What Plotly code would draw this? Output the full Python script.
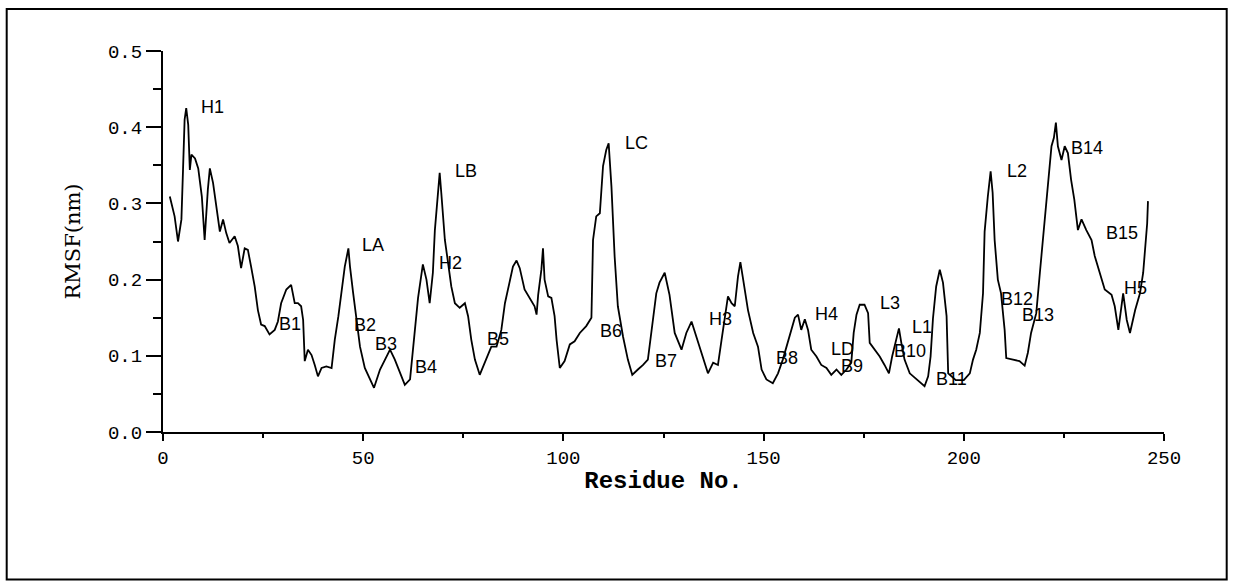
import plotly.graph_objects as go

residue = [1.7,2.9,3.75,4.6,5.0,5.4,5.8,6.3,6.7,7.1,8.0,8.8,9.7,10.4,11.2,11.7,12.5,13.4,14.2,15.0,
           15.8,16.6,17.9,18.7,19.5,20.4,21.2,22.0,22.9,23.7,24.5,25.4,26.6,27.9,28.7,29.5,30.8,32.0,32.9,33.7,
           34.5,35.0,35.4,36.2,37.1,37.9,38.7,39.6,40.8,42.1,42.9,43.8,44.6,45.4,46.3,46.7,47.5,48.4,49.2,50.4,
           51.7,52.7,54.2,55.4,56.7,57.9,59.2,60.4,61.7,62.9,63.7,64.9,65.8,66.6,67.4,67.9,68.7,69.1,69.5,70.4,
           71.2,72.0,72.9,74.1,75.4,76.2,77.0,77.9,79.1,80.4,82.0,83.3,84.5,85.4,86.6,87.4,88.3,89.1,90.3,91.6,
           92.8,93.3,93.7,94.5,94.9,95.3,96.2,97.0,97.8,98.3,99.1,100.3,101.6,102.8,104.1,105.7,107.0,107.4,108.2,109.1,
           109.9,110.7,111.3,112.0,112.8,113.6,114.9,116.1,117.2,118.6,119.9,121.1,122.0,123.2,124.0,125.3,126.5,127.8,129.5,130.7,
           132.0,133.2,134.9,136.1,137.4,138.6,139.5,140.3,141.1,142.0,142.8,143.6,144.2,144.9,146.1,147.4,148.6,149.5,150.7,152.3,
           153.6,154.8,156.5,157.8,158.6,159.4,160.3,161.1,161.9,163.2,164.4,165.7,166.9,168.2,169.4,170.7,171.9,172.5,173.2,174.0,
           175.2,176.1,176.5,177.7,179.0,180.2,181.3,182.1,183.0,183.8,184.4,185.2,186.5,188.2,190.2,191.1,191.7,192.3,193.1,194.0,
           194.8,195.7,196.1,198.0,200.0,201.5,202.3,203.1,204.0,204.8,205.2,206.0,206.7,207.2,207.7,208.5,209.3,210.2,210.6,212.3,
           213.9,215.2,216.0,216.8,218.1,219.0,220.2,221.1,221.9,222.5,223.0,223.5,224.4,225.2,226.0,226.8,227.6,228.5,229.4,230.6,
           231.9,232.7,233.9,235.2,236.9,237.7,238.6,239.4,239.8,240.7,241.5,242.8,244.0,244.8,245.5,245.8,246.0]

rmsf = [0.309,0.283,0.250,0.279,0.344,0.410,0.425,0.403,0.344,0.364,0.359,0.346,0.309,0.252,0.318,0.346,0.327,0.292,0.263,0.279,
        0.261,0.248,0.257,0.244,0.215,0.241,0.239,0.217,0.191,0.160,0.141,0.139,0.128,0.134,0.145,0.169,0.187,0.193,0.169,0.169,
        0.165,0.147,0.093,0.108,0.101,0.088,0.073,0.084,0.086,0.084,0.121,0.152,0.187,0.217,0.241,0.217,0.182,0.147,0.112,0.084,
        0.069,0.058,0.082,0.095,0.108,0.095,0.077,0.062,0.069,0.128,0.176,0.220,0.200,0.169,0.209,0.265,0.314,0.340,0.314,0.252,
        0.222,0.191,0.169,0.163,0.169,0.152,0.121,0.095,0.075,0.091,0.112,0.112,0.134,0.169,0.200,0.217,0.225,0.215,0.187,0.176,
        0.165,0.154,0.180,0.213,0.241,0.200,0.178,0.176,0.152,0.121,0.084,0.093,0.115,0.119,0.130,0.139,0.150,0.252,0.283,0.287,
        0.349,0.370,0.379,0.322,0.230,0.165,0.125,0.095,0.075,0.082,0.088,0.095,0.134,0.182,0.196,0.209,0.180,0.130,0.108,0.130,
        0.145,0.125,0.099,0.077,0.091,0.088,0.121,0.152,0.178,0.169,0.165,0.204,0.223,0.200,0.160,0.130,0.112,0.082,0.069,0.064,
        0.077,0.095,0.125,0.150,0.154,0.134,0.148,0.134,0.108,0.099,0.088,0.084,0.075,0.082,0.075,0.082,0.091,0.130,0.154,0.167,
        0.167,0.156,0.117,0.108,0.099,0.088,0.077,0.099,0.121,0.136,0.117,0.095,0.077,0.069,0.060,0.073,0.099,0.149,0.191,0.213,
        0.196,0.152,0.077,0.068,0.068,0.077,0.095,0.108,0.130,0.182,0.263,0.309,0.342,0.314,0.252,0.200,0.182,0.134,0.097,0.095,
        0.093,0.087,0.104,0.130,0.156,0.209,0.274,0.331,0.375,0.386,0.406,0.375,0.357,0.375,0.366,0.331,0.305,0.265,0.279,0.265,
        0.252,0.231,0.209,0.187,0.180,0.165,0.134,0.165,0.182,0.147,0.130,0.160,0.182,0.209,0.252,0.274,0.303]

label_text = ["H1","LA","B1","B2","B3","B4","LB","H2","B5","LC","B6","B7","H3","B8","H4","LD","B9",
              "L3","B10","L1","B11","L2","B12","B13","B14","B15","H5"]
label_x = [12.4,52.4,31.6,50.5,55.6,65.6,75.6,71.9,83.6,118.3,111.8,125.5,139.3,155.9,165.8,169.8,172.2,
           181.5,186.5,189.5,197.0,213.2,213.3,218.5,230.8,239.6,242.9]
label_y = [0.426,0.245,0.142,0.141,0.116,0.085,0.342,0.222,0.122,0.379,0.132,0.093,0.148,0.097,0.155,0.109,0.087,
           0.169,0.106,0.138,0.069,0.342,0.174,0.154,0.373,0.261,0.189]

x_ticks = [0, 50, 100, 150, 200, 250]
y_ticks = [0.0, 0.1, 0.2, 0.3, 0.4, 0.5]

fig = go.Figure()
fig.add_trace(go.Scatter(x=residue, y=rmsf, mode="lines",
                         line=dict(color="black", width=1.8), showlegend=False, hoverinfo="skip"))

for t, lx, ly in zip(label_text, label_x, label_y):
    fig.add_annotation(x=lx, y=ly, xref="x", yref="y", text=t, showarrow=False,
                       font=dict(family="Liberation Sans, Arial", size=18, color="black"),
                       xanchor="center", yanchor="middle")

W, H = 1233, 588
L, R, T, B = 163.3, 1164.3, 51.0, 432.3
pw, ph = R - L, B - T

def px2paper_x(p):
    return (p - L) / pw

def px2paper_y(p):
    return (B - p) / ph

fig.add_shape(type="rect", xref="paper", yref="paper",
              x0=px2paper_x(7), x1=px2paper_x(1227), y0=px2paper_y(580), y1=px2paper_y(9),
              line=dict(color="black", width=2), fillcolor="rgba(0,0,0,0)", layer="below")

tickfont = dict(family="Liberation Mono, Courier New", size=19, color="black")
fig.update_layout(
    width=W, height=H,
    margin=dict(l=L, r=W - R, t=T, b=H - B, pad=0),
    paper_bgcolor="white", plot_bgcolor="white",
    xaxis=dict(range=[0, 250], tickvals=x_ticks, ticktext=[str(v) for v in x_ticks],
               showgrid=False, zeroline=False, showline=True, linecolor="black", linewidth=2,
               ticks="outside", ticklen=7, tickwidth=2, tickcolor="black", tickfont=tickfont,
               minor=dict(dtick=25, tick0=0, ticks="outside", ticklen=4, tickwidth=2, tickcolor="black", showgrid=False),
               title=dict(text="<b>Residue No.</b>", font=dict(family="Liberation Mono, Courier New", size=24, color="black"),
                          standoff=2)),
    yaxis=dict(range=[0, 0.5], tickvals=y_ticks, ticktext=["%.1f" % v for v in y_ticks],
               showgrid=False, zeroline=False, showline=True, linecolor="black", linewidth=2,
               ticks="outside", ticklen=15, tickwidth=2, tickcolor="black", tickfont=tickfont,
               minor=dict(dtick=0.05, tick0=0, ticks="outside", ticklen=8, tickwidth=2, tickcolor="black", showgrid=False),
               title=dict(text="RMSF(nm)", font=dict(family="DejaVu Serif, Times New Roman", size=21, color="black"),
                          standoff=22)),
)

fig.write_html("out.html")
